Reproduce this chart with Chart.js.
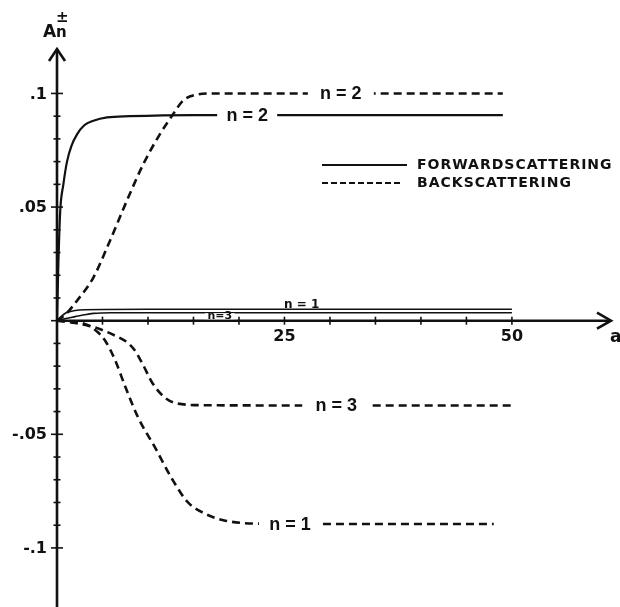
<!DOCTYPE html>
<html><head><meta charset="utf-8">
<script src="https://cdn.jsdelivr.net/npm/chart.js@4"></script>
<style>html,body{margin:0;padding:0;background:#fff}#wrap{width:620px;height:607px}</style>
</head><body><div id="wrap"><canvas id="c" width="620" height="607"></canvas></div>
<script>
// ---- data ----
const fwdN2A = [0, 0.15, 0.35, 0.7, 1.1, 1.6, 2.2, 3.0, 4.0, 5.5, 8, 15, 25, 35, 49];
const fwdN2V = [0, 0.025, 0.048, 0.060, 0.070, 0.077, 0.082, 0.086, 0.088, 0.0895, 0.090, 0.0905, 0.0905, 0.0905, 0.0905];
const fwdN1A = [0, 0.5, 1, 2, 3, 10, 25, 50];
const fwdN1V = [0, 0.002, 0.0035, 0.0045, 0.0048, 0.005, 0.005, 0.005];
const fwdN3A = [0, 1, 2, 3, 4, 6, 25, 50];
const fwdN3V = [0, 0.001, 0.0018, 0.0026, 0.0032, 0.0035, 0.0035, 0.0035];
const bckN2A = [0, 1, 2.2, 4.0, 5.8, 7.7, 9.5, 11.3, 12.7, 13.9, 15.4, 17, 25, 35, 49];
const bckN2V = [0, 0.003, 0.0088, 0.019, 0.035, 0.053, 0.069, 0.082, 0.0905, 0.097, 0.0995, 0.1, 0.1, 0.1, 0.1];
const bckN3A = [0, 2, 4.2, 6.4, 7.6, 8.5, 9.4, 10.5, 11.9, 13.3, 16.3, 25, 35, 50];
const bckN3V = [0, -0.001, -0.003, -0.0066, -0.0092, -0.0128, -0.019, -0.0275, -0.034, -0.0365, -0.0372, -0.0373, -0.0373, -0.0373];
const bckN1A = [0, 2, 3.4, 4.4, 5.3, 6.4, 7.5, 8.9, 10.8, 12.7, 14.4, 16.3, 18.5, 22, 30, 40, 48];
const bckN1V = [0, -0.0005, -0.002, -0.0048, -0.0088, -0.0175, -0.029, -0.0425, -0.056, -0.070, -0.080, -0.085, -0.088, -0.0893, -0.0895, -0.0895, -0.0895];

const xTickValues = [5, 10, 15, 20, 25, 30, 35, 40, 45, 50];
const xTickLabels = {25: '25', 50: '50'};
const yTickLabelValues = [0.1, 0.05, -0.05, -0.1];
const yTickLabels = ['.1', '.05', '-.05', '-.1'];
const legendLabels = ['FORWARDSCATTERING', 'BACKSCATTERING'];
const curveLabels = [
  {text: 'n = 2', a: 31.2, v: 0.1,     size: 18, gap: 66, mode: 'gap'},
  {text: 'n = 2', a: 20.9, v: 0.0905,  size: 18, gap: 60, mode: 'gap'},
  {text: 'n = 3', a: 30.7, v: -0.0373, size: 18, gap: 68, mode: 'gap'},
  {text: 'n = 1', a: 25.6, v: -0.0895, size: 18, gap: 62, mode: 'gap'},
  {text: 'n = 1', a: 26.9, v: 0.005,   size: 12, gap: 0,  mode: 'above'},
  {text: 'n=3',   a: 17.9, v: 0.0035,  size: 11, gap: 30, mode: 'below'}
];

const pts = (xs, ys) => xs.map((x, i) => ({x, y: ys[i]}));
const solid = (xs, ys, w) => ({data: pts(xs, ys), borderColor: '#111', borderWidth: w, cubicInterpolationMode: 'monotone', pointRadius: 0, fill: false});
const dashed = (xs, ys) => ({data: pts(xs, ys), borderColor: '#111', borderWidth: 2.6, borderDash: [8, 5], cubicInterpolationMode: 'monotone', pointRadius: 0, fill: false});

const FONT = '"DejaVu Sans", "Liberation Sans", sans-serif';
const LFONT = '"Liberation Sans", Arial, sans-serif';

const decor = {
  id: 'decor',
  afterDatasetsDraw(chart) {
    const ctx = chart.ctx, xs = chart.scales.x, ys = chart.scales.y, ca = chart.chartArea;
    const X = v => xs.getPixelForValue(v), Y = v => ys.getPixelForValue(v);
    ctx.save();
    ctx.strokeStyle = '#111'; ctx.fillStyle = '#111';
    ctx.lineCap = 'butt';
    const x0 = X(0), y0 = Y(0);
    ctx.lineWidth = 2.6;
    ctx.beginPath(); ctx.moveTo(x0, ca.top + 1); ctx.lineTo(x0, ca.bottom); ctx.stroke();
    ctx.beginPath(); ctx.moveTo(x0, y0); ctx.lineTo(ca.right - 1, y0); ctx.stroke();
    ctx.lineJoin = 'miter';
    ctx.beginPath(); ctx.moveTo(x0 - 8, ca.top + 13); ctx.lineTo(x0, ca.top + 1); ctx.lineTo(x0 + 8, ca.top + 13); ctx.stroke();
    ctx.beginPath(); ctx.moveTo(ca.right - 15, y0 - 8); ctx.lineTo(ca.right - 1, y0); ctx.lineTo(ca.right - 15, y0 + 8); ctx.stroke();
    ctx.lineWidth = 1.6;
    for (let k = -10; k <= 10; k++) {
      const y = Y(k / 100); const major = k % 5 === 0;
      const L = major ? 6 : 3.5;
      ctx.beginPath(); ctx.moveTo(x0 - L, y); ctx.lineTo(x0 + L, y); ctx.stroke();
    }
    xTickValues.forEach(v => { const x = X(v); ctx.beginPath(); ctx.moveTo(x, y0 - 4); ctx.lineTo(x, y0 + 4); ctx.stroke(); });
    ctx.font = 'bold 16px ' + FONT;
    ctx.textAlign = 'center'; ctx.textBaseline = 'top';
    Object.keys(xTickLabels).forEach(v => ctx.fillText(xTickLabels[v], X(+v), y0 + 8));
    ctx.textAlign = 'right'; ctx.textBaseline = 'middle';
    yTickLabelValues.forEach((v, i) => ctx.fillText(yTickLabels[i], x0 - 10, Y(v) + 1));
    ctx.textAlign = 'left'; ctx.textBaseline = 'alphabetic';
    ctx.font = 'bold 17px ' + FONT;
    ctx.fillText('a', ca.right - 2, y0 + 21);
    ctx.fillText('A', 43, 37);
    ctx.font = 'bold 15px ' + FONT;
    ctx.fillText('n', 56, 37);
    ctx.fillText('\u00b1', 56, 22);
    // legend
    ctx.lineWidth = 2; ctx.setLineDash([]);
    ctx.beginPath(); ctx.moveTo(322, 165); ctx.lineTo(407, 165); ctx.stroke();
    ctx.setLineDash([6, 3]);
    ctx.beginPath(); ctx.moveTo(322, 183); ctx.lineTo(400, 183); ctx.stroke();
    ctx.setLineDash([]);
    ctx.font = 'bold 14px ' + FONT; ctx.textBaseline = 'middle';
    ctx.letterSpacing = '1px';
    ctx.fillText(legendLabels[0], 417, 165);
    ctx.fillText(legendLabels[1], 417, 183);
    ctx.letterSpacing = '0px';
    // curve labels
    curveLabels.forEach(l => {
      const cx = X(l.a), cy = Y(l.v);
      ctx.font = 'bold ' + l.size + 'px ' + (l.size > 14 ? LFONT : FONT);
      ctx.textAlign = 'center';
      if (l.mode === 'gap') {
        ctx.fillStyle = '#fff'; ctx.fillRect(cx - l.gap / 2, cy - 4, l.gap, 8);
        ctx.fillStyle = '#111'; ctx.textBaseline = 'middle'; ctx.fillText(l.text, cx, cy + 1);
      } else if (l.mode === 'above') {
        ctx.fillStyle = '#111'; ctx.textBaseline = 'alphabetic'; ctx.fillText(l.text, cx, cy - 1);
      } else {
        ctx.fillStyle = '#fff'; ctx.fillRect(cx - l.gap / 2, cy + 0.5, l.gap, y0 - cy - 2);
        ctx.fillStyle = '#111'; ctx.textBaseline = 'alphabetic'; ctx.fillText(l.text, cx, y0 - 1.5);
      }
    });
    ctx.restore();
  }
};

new Chart(document.getElementById('c'), {
  type: 'line',
  data: {datasets: [
    solid(fwdN2A, fwdN2V, 2.2),
    solid(fwdN1A, fwdN1V, 1.6),
    solid(fwdN3A, fwdN3V, 1.6),
    dashed(bckN2A, bckN2V),
    dashed(bckN3A, bckN3V),
    dashed(bckN1A, bckN1V)
  ]},
  options: {
    responsive: false, animation: false, devicePixelRatio: 1,
    layout: {padding: {left: 57, right: 8, top: 48, bottom: 0}},
    scales: {
      x: {type: 'linear', min: 0, max: 61, display: false},
      y: {type: 'linear', min: -0.126, max: 0.12, display: false}
    },
    plugins: {legend: {display: false}, tooltip: {enabled: false}},
    events: []
  },
  plugins: [decor]
});
</script></body></html>
